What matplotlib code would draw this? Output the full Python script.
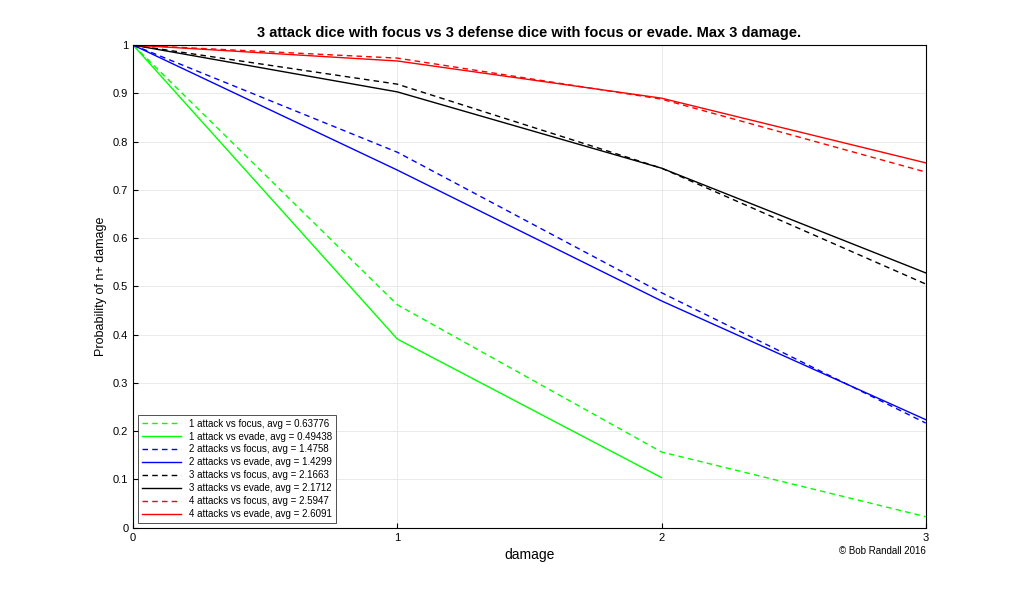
import matplotlib.pyplot as plt

plt.rcParams['font.family'] = ['Liberation Sans', 'DejaVu Sans']

damage = [0, 1, 2, 3]
labels = ['1 attack vs focus, avg = 0.63776', '1 attack vs evade, avg = 0.49438',
          '2 attacks vs focus, avg = 1.4758', '2 attacks vs evade, avg = 1.4299',
          '3 attacks vs focus, avg = 2.1663', '3 attacks vs evade, avg = 2.1712',
          '4 attacks vs focus, avg = 2.5947', '4 attacks vs evade, avg = 2.6091']
a1_focus = [1, 0.462, 0.157, 0.023]
a1_evade = [1, 0.391, 0.104]
a2_focus = [1, 0.778, 0.487, 0.217]
a2_evade = [1, 0.741, 0.470, 0.224]
a3_focus = [1, 0.919, 0.745, 0.505]
a3_evade = [1, 0.903, 0.745, 0.528]
a4_focus = [1, 0.973, 0.888, 0.737]
a4_evade = [1, 0.967, 0.890, 0.756]

series = [a1_focus, a1_evade, a2_focus, a2_evade, a3_focus, a3_evade, a4_focus, a4_evade]
colors = ['#00ff00', '#00ff00', 'b', 'b', 'k', 'k', 'r', 'r']

fig = plt.figure(figsize=(10.24, 5.93), dpi=100)
ax = fig.add_axes([0.130, 0.110, 0.774, 0.814])
for i, s in enumerate(series):
    if i % 2 == 0:
        ax.plot(damage[:len(s)], s, color=colors[i], lw=1, ls=(0, (4, 3)), label=labels[i])
    else:
        ax.plot(damage[:len(s)], s, '-', color=colors[i], lw=1, label=labels[i])

ax.set_xlim(0, 3)
ax.set_ylim(0, 1)
ax.set_xticks([0, 1, 2, 3])
ax.set_yticks([i / 10 for i in range(11)])
ax.set_yticklabels(['0', '0.1', '0.2', '0.3', '0.4', '0.5', '0.6', '0.7', '0.8', '0.9', '1'])
ax.tick_params(labelsize=8, direction='in')
ax.grid(True, color='#e6e6e6', lw=0.6)
ax.set_xlabel('damage', fontsize=10)
ax.set_ylabel('Probability of n+ damage', fontsize=9)
ax.set_title('3 attack dice with focus vs 3 defense dice with focus or evade. Max 3 damage.',
             fontsize=10.5, fontweight='bold')
leg = ax.legend(loc='lower left', fontsize=7, fancybox=False, edgecolor='k',
                handlelength=4, borderpad=0.4, labelspacing=0.3)
leg.get_frame().set_linewidth(0.6)
fig.text(0.904, 0.065, '\u00a9 Bob Randall 2016', fontsize=7, ha='right')

fig.savefig('out.png')
